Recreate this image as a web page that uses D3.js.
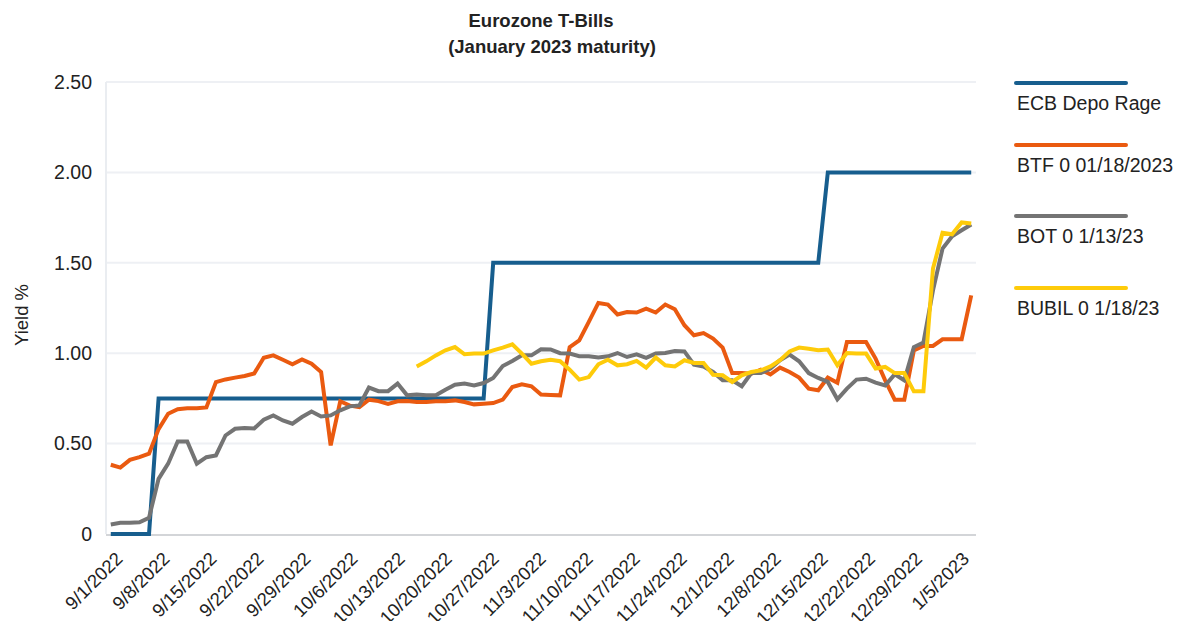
<!DOCTYPE html>
<html>
<head>
<meta charset="utf-8">
<script src="https://cdn.jsdelivr.net/npm/d3@7"></script>
<style>
  body { margin: 0; background: #fff; }
  svg text { font-family: "Liberation Sans", Arial, sans-serif; fill: #222; }
</style>
</head>
<body>
<div id="chart"></div>
<script>
// business days 9/1/2022 .. 1/5/2023
var dates = d3.timeDay.range(new Date(2022, 8, 1), new Date(2023, 0, 6))
    .filter(function(d) { return d.getDay() !== 0 && d.getDay() !== 6; });
var fmt = d3.timeFormat("%-m/%-d/%Y");
var categories = dates.map(fmt);

var tickLabels = ["9/1/2022", "9/8/2022", "9/15/2022", "9/22/2022", "9/29/2022", "10/6/2022",
    "10/13/2022", "10/20/2022", "10/27/2022", "11/3/2022", "11/10/2022", "11/17/2022",
    "11/24/2022", "12/1/2022", "12/8/2022", "12/15/2022", "12/22/2022", "12/29/2022", "1/5/2023"];

var yTicks = [0, 0.5, 1.0, 1.5, 2.0, 2.5];

var seriesNames = ["ECB Depo Rage", "BTF 0 01/18/2023", "BOT 0 1/13/23", "BUBIL 0 1/18/23"];
var seriesColors = ["#175e8e", "#ea5a10", "#747474", "#fecb0a"];

var ecb = [0, 0, 0, 0, 0,
    0.75, 0.75, 0.75, 0.75, 0.75, 0.75, 0.75, 0.75, 0.75, 0.75,
    0.75, 0.75, 0.75, 0.75, 0.75, 0.75, 0.75, 0.75, 0.75, 0.75,
    0.75, 0.75, 0.75, 0.75, 0.75, 0.75, 0.75, 0.75, 0.75, 0.75,
    0.75, 0.75, 0.75, 0.75, 0.75,
    1.5, 1.5, 1.5, 1.5, 1.5, 1.5, 1.5, 1.5, 1.5, 1.5,
    1.5, 1.5, 1.5, 1.5, 1.5, 1.5, 1.5, 1.5, 1.5, 1.5,
    1.5, 1.5, 1.5, 1.5, 1.5, 1.5, 1.5, 1.5, 1.5, 1.5,
    1.5, 1.5, 1.5, 1.5, 1.5,
    2.0, 2.0, 2.0, 2.0, 2.0, 2.0, 2.0, 2.0, 2.0, 2.0,
    2.0, 2.0, 2.0, 2.0, 2.0, 2.0];

var btf = [0.383, 0.367, 0.41, 0.425, 0.444, 0.58, 0.665, 0.69, 0.695, 0.695,
    0.70, 0.84, 0.855, 0.865, 0.874, 0.888, 0.975, 0.988, 0.964, 0.939,
    0.966, 0.942, 0.896, 0.49, 0.734, 0.71, 0.702, 0.743, 0.735, 0.72,
    0.734, 0.736, 0.73, 0.73, 0.734, 0.734, 0.739, 0.73, 0.717, 0.72,
    0.724, 0.743, 0.813, 0.828, 0.817, 0.771, 0.769, 0.767, 1.034, 1.071,
    1.173, 1.278, 1.269, 1.214, 1.228, 1.225, 1.247, 1.225, 1.269, 1.243,
    1.155, 1.099, 1.111, 1.081, 1.031, 0.89, 0.89, 0.887, 0.909, 0.883,
    0.92, 0.896, 0.865, 0.804, 0.795, 0.865, 0.837, 1.062, 1.062, 1.062,
    0.97, 0.85, 0.743, 0.743, 1.016, 1.04, 1.04, 1.077, 1.077, 1.077,
    1.32];

var bot = [0.053, 0.062, 0.062, 0.065, 0.09, 0.305, 0.389, 0.512, 0.512, 0.389,
    0.425, 0.435, 0.545, 0.582, 0.586, 0.584, 0.632, 0.656, 0.628, 0.61,
    0.647, 0.678, 0.65, 0.656, 0.684, 0.706, 0.711, 0.81, 0.79, 0.79,
    0.832, 0.767, 0.771, 0.767, 0.767, 0.798, 0.826, 0.832, 0.822, 0.835,
    0.863, 0.929, 0.957, 0.988, 0.988, 1.022, 1.021, 1.0, 0.998, 0.983,
    0.983, 0.976, 0.983, 1.001, 0.979, 0.994, 0.974, 0.998, 1.001, 1.012,
    1.01, 0.937, 0.926, 0.896, 0.85, 0.85, 0.817, 0.89, 0.89, 0.915,
    0.961, 0.992, 0.955, 0.89, 0.863, 0.841, 0.745, 0.804, 0.854, 0.859,
    0.837, 0.822, 0.883, 0.85, 1.034, 1.059, 1.348, 1.579, 1.647, 1.68,
    1.712];

// BUBIL starts on 10/18/2022
var bubil = [null, null, null, null, null, null, null, null, null, null,
    null, null, null, null, null, null, null, null, null, null,
    null, null, null, null, null, null, null, null, null, null,
    null, null, 0.927, 0.955, 0.988, 1.016, 1.034, 0.994, 0.998, 0.998,
    1.016, 1.031, 1.049, 0.998, 0.942, 0.955, 0.963, 0.956, 0.909, 0.854,
    0.868, 0.939, 0.964, 0.933, 0.939, 0.957, 0.92, 0.976, 0.933, 0.927,
    0.961, 0.946, 0.946, 0.881, 0.878, 0.841, 0.878, 0.896, 0.905, 0.927,
    0.961, 1.01, 1.031, 1.025, 1.016, 1.02, 0.933, 1.001, 0.999, 0.998,
    0.915, 0.924, 0.89, 0.89, 0.789, 0.789, 1.468, 1.666, 1.658, 1.723,
    1.717];

var seriesValues = [ecb, btf, bot, bubil];

var width = 1181, height = 621;
var plot = {left: 106, right: 976, top: 82, bottom: 534};

var svg = d3.select("#chart").append("svg")
    .attr("width", width)
    .attr("height", height);

var x = d3.scaleBand()
    .domain(categories)
    .range([plot.left, plot.right]);

var y = d3.scaleLinear()
    .domain([0, 2.5])
    .range([plot.bottom, plot.top]);

// label positions run on a slightly tighter spacing than the points
var labelX = d3.scaleLinear()
    .domain([0, categories.length - 1])
    .range([x(categories[0]) + x.bandwidth() / 2 + 4, x(categories[categories.length - 1]) + x.bandwidth() / 2 - 10]);

// title
svg.append("text")
    .attr("x", 541).attr("y", 27)
    .attr("text-anchor", "middle")
    .style("font-size", "18.5px").style("font-weight", "bold")
    .text("Eurozone T-Bills");
svg.append("text")
    .attr("x", 552).attr("y", 53)
    .attr("text-anchor", "middle")
    .style("font-size", "18.5px").style("font-weight", "bold")
    .text("(January 2023 maturity)");

// grid
svg.append("g").selectAll("line")
    .data(yTicks.filter(function(d) { return d > 0; }))
    .enter().append("line")
    .attr("x1", plot.left).attr("x2", plot.right)
    .attr("y1", function(d) { return y(d); })
    .attr("y2", function(d) { return y(d); })
    .attr("stroke", "#eef0f4")
    .attr("stroke-width", 2);

svg.append("line")
    .attr("x1", plot.left).attr("x2", plot.left)
    .attr("y1", plot.top).attr("y2", plot.bottom)
    .attr("stroke", "#eaedf1").attr("stroke-width", 2);

svg.append("line")
    .attr("x1", plot.left).attr("x2", plot.right)
    .attr("y1", plot.bottom + 1).attr("y2", plot.bottom + 1)
    .attr("stroke", "#d3d5d8").attr("stroke-width", 2);

// y axis labels
var yAxis = d3.axisLeft(y)
    .tickValues(yTicks)
    .tickSize(0)
    .tickPadding(14)
    .tickFormat(function(d) { return d === 0 ? "0" : d3.format(".2f")(d); });

var gy = svg.append("g")
    .attr("transform", "translate(" + plot.left + ",0)")
    .call(yAxis);
gy.select(".domain").remove();
gy.selectAll("text").style("font-size", "19.5px").attr("fill", "#222");

svg.append("text")
    .attr("transform", "translate(28,315) rotate(-90)")
    .attr("text-anchor", "middle")
    .style("font-size", "18.5px")
    .text("Yield %");

// x axis labels
svg.append("g").selectAll("text")
    .data(tickLabels)
    .enter().append("text")
    .attr("transform", function(d) {
        var i = categories.indexOf(d);
        return "translate(" + (labelX(i) + 9) + ",560) rotate(-45)";
    })
    .attr("text-anchor", "end")
    .style("font-size", "18.5px")
    .text(function(d) { return d; });

// lines
var line = d3.line()
    .defined(function(d) { return d != null; })
    .x(function(d, i) { return x(categories[i]) + x.bandwidth() / 2; })
    .y(function(d) { return y(d); });

svg.append("g").selectAll("path")
    .data(seriesValues)
    .enter().append("path")
    .attr("d", function(d) { return line(d); })
    .attr("fill", "none")
    .attr("stroke", function(d, i) { return seriesColors[i]; })
    .attr("stroke-width", 4)
    .attr("stroke-linejoin", "miter");

// legend
var legendY = [83, 145, 216, 288];
var legend = svg.append("g").selectAll("g")
    .data(seriesNames)
    .enter().append("g")
    .attr("transform", function(d, i) { return "translate(1016," + legendY[i] + ")"; });

legend.append("line")
    .attr("x1", 0).attr("x2", 110)
    .attr("stroke", function(d, i) { return seriesColors[i]; })
    .attr("stroke-width", 4)
    .attr("stroke-linecap", "round");

legend.append("text")
    .attr("x", 1).attr("y", 27)
    .style("font-size", "19.5px")
    .text(function(d) { return d; });
</script>
</body>
</html>
